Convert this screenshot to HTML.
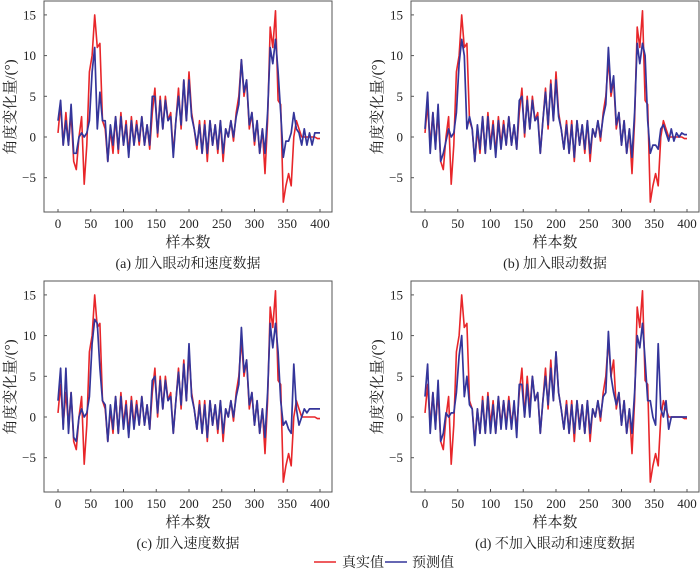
<!DOCTYPE html>
<html><head><meta charset="utf-8"><style>
html,body{margin:0;padding:0;background:#fff;}
svg text{font-family:"Liberation Serif","Noto Serif CJK SC","Noto Sans CJK SC",serif;fill:#222;}
</style></head><body>
<svg id="c" width="700" height="571" viewBox="0 0 700 571" xmlns="http://www.w3.org/2000/svg"></svg>
<script>
const xStep = 4;
const trueVals = [0.5,4,-1,3,-1,3,-3,-4,0,2.5,-5.8,-1,8,10,15,11,11.5,2,1,-3,1,-2,2.5,-2,3,-1,2,-2,2.5,-1,2,-1,2.5,-1,1.5,-1.5,3,6,0,5,1,5,2,3,-2,2,6,1,7,2,8,3,1,-1.5,2,-2,2,-3,2,-1,1.5,-2,2,-3,1,0,2,-0.5,3,5,9.5,5,7,1,3,-1,2,-2,1,-4.5,2,13.5,11,15.5,4.5,4,-8,-6,-4.5,-6,0,2,1,0,0,0,0,0,0,-0.2,-0.2];
const predA = [2,4.5,-1,2,-1,4,-2,-2,0,0.5,0,0.5,2,8,11,1,5.5,2,2,-3,1.5,-1,2.5,-1.5,2.5,-1,1.5,-2.5,2,-1,1.5,-0.5,2.5,-1,1.5,-1,5,5,0.5,4.5,1,4.5,2,2.5,-2.5,2,5,1.5,7,2,7,2.5,1,-1,1.5,-2,1.5,-2,2,-1,1.5,-1.5,2,-2,1,0,2,0,2.5,4,9.5,5.5,7,1.5,3,-0.5,2,-2,1,-2,3,11,9,12,8,3,-2.5,-0.5,-0.5,0.5,3,1,0.5,-1,1,-1,0.5,-1,0.5,0.5,0.5];
const predB = [1,5.5,-2,3,-1.5,4,-3,-2,-0.5,1,0,0.5,3,9,12,10,1,2.5,1,-3,1.5,-1.5,2.5,-2,2.5,-1.5,1.5,-2.5,2,-1.5,1.5,-1,2.5,-1,1.5,-1.5,4.5,5,0.5,4.5,1,4.5,2,2.5,-2,2,5.5,1.5,6.5,2,7,2.5,1,-1.5,1.5,-2,1.5,-2.5,2,-1,1.5,-1.5,2,-2,1,0,2,0,2.5,4,11,5.5,7.5,1.5,3,-1,2,-2,1,-2.5,3,11.5,9,11.5,10,2,-2,-1,-1,-1.5,1,1.5,0.5,-0.5,1,-0.5,0.5,0,0.5,0.3,0.3];
const predC = [2,6,-1.5,6,-2,3,-2.5,-3,0,1,0,0.5,2.5,9,12,11.5,6,2,1.5,-3,1.5,-1.5,2.5,-2,2.5,-1.5,1.5,-2.5,2,-1.5,1.5,-1,2.5,-1,1.5,-1.5,4.5,5,0.5,4.5,1,4.5,2,2.5,-2,2,5.5,1.5,6.5,2,9,2.5,1,-1.5,1.5,-2,1.5,-2.5,2,-1,1.5,-1.5,2,-2,1,0,2,0,2.5,4,11,5.5,7,1.5,3,-1,2,-2,1,-2.5,3,11.5,8.5,11.5,8,2,-1,-0.5,-1.5,-2,6.5,1,-1,0,1,0.5,1,1,1,1,1];
const predD = [2.5,6.5,-2,3,-1.5,4.5,-3,-2,0.5,0,0.5,0.5,3,7.5,10,2.5,5,1.5,1,-3.5,1,-2,2,-2,2.5,-2,1.5,-2,2.5,-1.5,2,-1.5,2,-1.5,2,-2.5,4,4,0,4,0,5,2,3,-2,2,5,1.5,6,2,8,3,1,-1.5,1.5,-2,1.5,-2,2,-1.5,1.5,-2,2,-2,1,0,2,0,2.5,3,10.5,5,3,1.5,3,-1,2,-2,1,-2,3,10,8.5,11.5,7,2,2,0,-1,9,1,0,2,-1.5,0,0,0,0,0,0,0];
const xTicks = [0,50,100,150,200,250,300,350,400];
const yTicks = [-5,0,5,10,15];
const captions = ["(a) 加入眼动和速度数据","(b) 加入眼动数据","(c) 加入速度数据","(d) 不加入眼动和速度数据"];

const NS="http://www.w3.org/2000/svg";
const svg=document.getElementById('c');
function mk(tag,attrs,parent){const e=document.createElementNS(NS,tag);for(const k in attrs)e.setAttribute(k,attrs[k]);(parent||svg).appendChild(e);return e;}

const panels=[{ox:0,oy:0,pred:predA},{ox:367,oy:0,pred:predB},{ox:0,oy:280,pred:predC},{ox:367,oy:280,pred:predD}];
panels.forEach((p,pi)=>{
  const g=mk('g',{});
  
  
  const L=44+p.ox,R=332+p.ox,T=1+p.oy,B=212+p.oy;
  const xs=v=>58+p.ox+(v/400)*262;
  const ys=v=>137+p.oy-(v/5)*40.7;
  const box=mk('rect',{x:L,y:T,width:R-L,height:B-T,fill:'none',stroke:'#555','stroke-width':1},g);
  
  
  xTicks.forEach(t=>{
    mk('line',{x1:xs(t),x2:xs(t),y1:B,y2:B-3,stroke:'#555'},g);
    const tx=mk('text',{x:xs(t),y:B+16,'font-size':13,'text-anchor':'middle'},g);
    tx.textContent=t;
    
    
  });
  yTicks.forEach(t=>{
    mk('line',{x1:L,x2:L+3,y1:ys(t),y2:ys(t),stroke:'#555'},g);
    const tx=mk('text',{x:L-8,y:ys(t)+4.5,'font-size':13,'text-anchor':'end'},g);
    tx.textContent=t<0?'−'+(-t):t;
    
    
  });
  const yl=mk('text',{x:0,y:0,'font-size':15,'text-anchor':'middle',transform:`translate(${15+p.ox},${107+p.oy}) rotate(-90)`},g);
  yl.textContent='角度变化量/(°)';
  
  
  const xl=mk('text',{x:188+p.ox,y:247+p.oy,'font-size':15,'text-anchor':'middle'},g);
  xl.textContent='样本数';
  
  
  const cap=mk('text',{x:188+p.ox,y:268+p.oy,'font-size':14,'text-anchor':'middle'},g);
  cap.textContent=captions[pi];
  
  
  const ptsR=trueVals.map((v,i)=>xs(i*xStep).toFixed(1)+','+ys(v).toFixed(1)).join(' ');
  const lr=mk('polyline',{points:ptsR,fill:'none',stroke:'#e8262a','stroke-width':1.6,'stroke-linejoin':'round'},g);
  
  
  const ptsB=p.pred.map((v,i)=>xs(i*xStep).toFixed(1)+','+ys(v).toFixed(1)).join(' ');
  const lb=mk('polyline',{points:ptsB,fill:'none',stroke:'#34359a','stroke-width':1.7,'stroke-linejoin':'round'},g);
  
  
});
const lg=mk('g',{});


const e1=mk('line',{x1:314,x2:336,y1:562,y2:562,stroke:'#e8262a','stroke-width':1.6},lg);


const t1=mk('text',{x:342,y:567,'font-size':14},lg);t1.textContent='真实值';


const e2=mk('line',{x1:385,x2:407,y1:562,y2:562,stroke:'#34359a','stroke-width':1.6},lg);


const t2=mk('text',{x:412,y:567,'font-size':14},lg);t2.textContent='预测值';


</script>
</body></html>
